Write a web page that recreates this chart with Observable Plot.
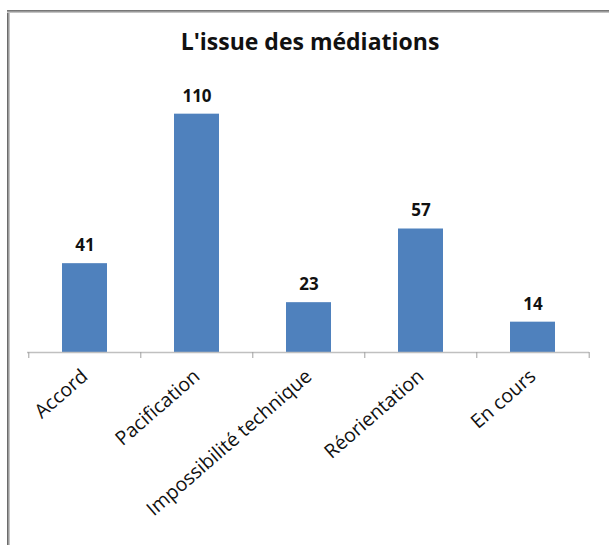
<!DOCTYPE html>
<html>
<head>
<meta charset="utf-8">
<script src="https://cdn.jsdelivr.net/npm/d3@7"></script>
<script src="https://cdn.jsdelivr.net/npm/@observablehq/plot@0.6"></script>
<style>
  html, body { margin: 0; padding: 0; background: #fff; }
  #wrap { position: relative; width: 609px; height: 545px; overflow: hidden; font-family: "Open Sans", "Noto Sans", sans-serif; }
  #bl { position: absolute; left: 7px; top: 10px; width: 3px; height: 535px; background: linear-gradient(to right, #555, #9a9a9a, #d8d8d8); }
  #bt { position: absolute; left: 7px; top: 10px; width: 602px; height: 3px; background: linear-gradient(to bottom, #666, #9a9a9a, #d8d8d8); }
  #title { position: absolute; left: 0; width: 620px; top: 27px; text-align: center; font-size: 23px; font-weight: bold; color: #111; line-height: 28px; }
  #chart { position: absolute; left: 0; top: 0; }
</style>
</head>
<body>
<div id="wrap">
  <div id="chart"></div>
  <div id="bl"></div>
  <div id="bt"></div>
  <div id="title">L'issue des médiations</div>
</div>
<script>
const categories = ["Accord", "Pacification", "Impossibilité technique", "Réorientation", "En cours"];
const values = [41, 110, 23, 57, 14];
const yMax = 120;

const data = categories.map((c, i) => ({category: c, value: values[i]}));

const W = 609, H = 545, mL = 27, mR = 20, mT = 92, mB = 193;
const step = (W - mL - mR) / categories.length;
const unitsPerPx = yMax / (H - mT - mB);
const tickLen = 6 * unitsPerPx;

const chart = Plot.plot({
  width: W,
  height: H,
  marginLeft: mL,
  marginRight: mR,
  marginTop: mT,
  marginBottom: mB,
  style: {fontFamily: "'Open Sans', 'Noto Sans', sans-serif", background: "transparent"},
  x: {domain: categories, paddingInner: 0.6, paddingOuter: 0.3, label: null},
  y: {domain: [0, yMax], axis: null},
  marks: [
    Plot.barY(data, {x: "category", y: "value", fill: "#4f81bd"}),
    Plot.ruleY([0], {stroke: "#c0c0c0", strokeWidth: 1.5}),
    Plot.ruleX(categories, {x: d => d, y1: 0, y2: -tickLen, dx: -step / 2, stroke: "#a0a0a0"}),
    Plot.ruleX(categories.slice(-1), {x: d => d, y1: 0, y2: -tickLen, dx: step / 2, stroke: "#a0a0a0"}),
    Plot.text(data, {x: "category", y: "value", text: d => String(d.value), dy: -18, fontSize: 17, fontWeight: "bold", fill: "#111"}),
    Plot.axisX({tickSize: 0, tickPadding: 21, tickRotate: -41, fontSize: 19.5, fill: "#111", label: null})
  ]
});
document.getElementById("chart").appendChild(chart);
</script>
</body>
</html>
